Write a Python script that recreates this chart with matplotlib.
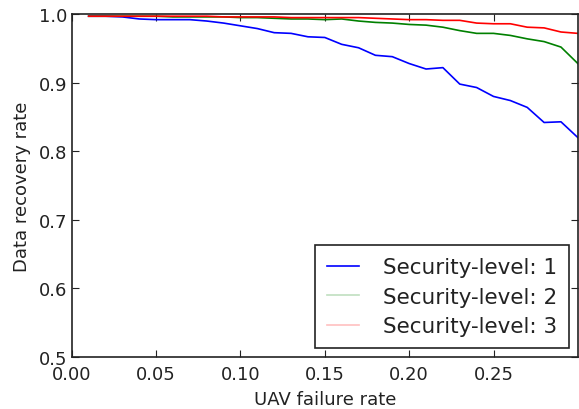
import numpy as np
import matplotlib.pyplot as plt

# failure rate sampled every 0.01
failure_rate = np.round(np.arange(1, 31) * 0.01, 2)

level1 = [0.997, 0.997, 0.996, 0.993, 0.992, 0.992, 0.992, 0.990, 0.987, 0.983,
          0.979, 0.973, 0.972, 0.967, 0.966, 0.956, 0.951, 0.940, 0.938, 0.928,
          0.920, 0.922, 0.898, 0.893, 0.880, 0.874, 0.864, 0.842, 0.843, 0.820]
level2 = [0.997, 0.997, 0.997, 0.997, 0.997, 0.996, 0.996, 0.996, 0.996, 0.995,
          0.995, 0.994, 0.993, 0.993, 0.992, 0.993, 0.990, 0.988, 0.987, 0.985,
          0.984, 0.981, 0.976, 0.972, 0.972, 0.969, 0.964, 0.960, 0.952, 0.928]
level3 = [0.997, 0.997, 0.997, 0.997, 0.997, 0.997, 0.997, 0.997, 0.996, 0.996,
          0.996, 0.996, 0.995, 0.995, 0.995, 0.995, 0.995, 0.994, 0.993, 0.992,
          0.992, 0.991, 0.991, 0.987, 0.986, 0.986, 0.981, 0.980, 0.974, 0.972]

labels = ["Security-level: 1", "Security-level: 2", "Security-level: 3"]
colors = ["#0000ff", "#008000", "#ff0000"]

x_ticks = [0.00, 0.05, 0.10, 0.15, 0.20, 0.25]
y_ticks = [0.5, 0.6, 0.7, 0.8, 0.9, 1.0]

plt.rcParams['xtick.direction'] = 'in'
plt.rcParams['ytick.direction'] = 'in'
plt.rcParams['xtick.top'] = True
plt.rcParams['ytick.right'] = True

fig = plt.figure(figsize=(5.79, 4.10), dpi=100)
ax = fig.add_axes([0.124, 0.127, 0.874, 0.836])

for ys, lab, col in zip([level1, level2, level3], labels, colors):
    ax.plot(failure_rate, ys, color=col, lw=1.2, label=lab)

ax.set_xlim(0.0, 0.30)
ax.set_ylim(0.5, 1.0)
ax.set_xticks(x_ticks)
ax.set_xticklabels(["%.2f" % t for t in x_ticks])
ax.set_yticks(y_ticks)
ax.set_yticklabels(["%.1f" % t for t in y_ticks])
ax.tick_params(labelsize=13, length=5, width=0.8, colors='#222222')
ax.tick_params(axis='x', pad=6)
ax.tick_params(axis='y', pad=3)
for s in ax.spines.values():
    s.set_linewidth(1.2)
    s.set_color('#222222')

ax.set_xlabel("UAV failure rate", fontsize=13, labelpad=5, color='#222222')
ax.set_ylabel("Data recovery rate", fontsize=13, labelpad=6, color='#222222')

leg = ax.legend(loc='lower right', prop={'size': 15.5}, fancybox=False,
                framealpha=1, edgecolor='#222222', handlelength=1.5,
                handletextpad=1.1, borderpad=0.55, labelspacing=0.45,
                borderaxespad=0.4)
leg.get_frame().set_linewidth(1.2)
for t in leg.get_texts():
    t.set_color('#222222')
for h in leg.legend_handles[1:]:
    h.set_alpha(0.25)

fig.savefig("out.png", dpi=100)
